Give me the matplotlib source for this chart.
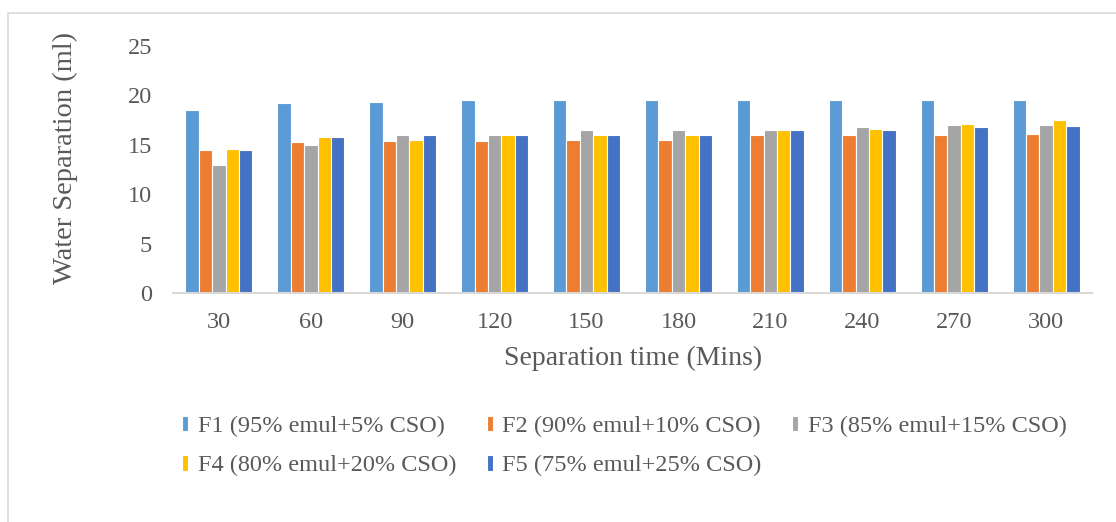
import numpy as np
import matplotlib
matplotlib.use("Agg")
import matplotlib.pyplot as plt
from matplotlib.patches import Rectangle

times = ["30", "60", "90", "120", "150", "180", "210", "240", "270", "300"]
series_names = [
    "F1 (95% emul+5% CSO)",
    "F2 (90% emul+10% CSO)",
    "F3 (85% emul+15% CSO)",
    "F4 (80% emul+20% CSO)",
    "F5 (75% emul+25% CSO)",
]
f1 = [18.5, 19.2, 19.3, 19.5, 19.5, 19.5, 19.5, 19.5, 19.5, 19.5]
f2 = [14.5, 15.3, 15.4, 15.4, 15.5, 15.5, 16.0, 16.0, 16.0, 16.1]
f3 = [13.0, 15.0, 16.0, 16.0, 16.5, 16.5, 16.5, 16.8, 17.0, 17.0]
f4 = [14.6, 15.8, 15.5, 16.0, 16.0, 16.0, 16.5, 16.6, 17.1, 17.5]
f5 = [14.5, 15.8, 16.0, 16.0, 16.0, 16.0, 16.5, 16.5, 16.8, 16.9]
colors = ["#5B9BD5", "#ED7D31", "#A5A5A5", "#FFC000", "#4472C4"]

plt.rcParams["font.family"] = ["Liberation Serif", "DejaVu Serif"]

fig = plt.figure(figsize=(11.16, 5.22), dpi=100)
ax = fig.add_axes([0.155, 0.4387, 0.8235, 0.4732])

# light chart-area border like the spreadsheet export
fig.patches.append(Rectangle((8 / 1116, -0.1), 1.2, 1 - 13 / 522 + 0.1,
                             transform=fig.transFigure, fill=False,
                             edgecolor="#D9D9D9", linewidth=1.2))

x = np.arange(len(times))
width = 0.146
handles = []
for i, (vals, name) in enumerate(zip([f1, f2, f3, f4, f5], series_names)):
    bars = ax.bar(x + (i - 2) * width, vals, width, color=colors[i],
                  edgecolor="white", linewidth=0.8, label=name)
    handles.append(bars)

ax.set_xlim(-0.5, len(times) - 0.5)
ax.set_ylim(0, 25)
ax.set_yticks([0, 5, 10, 15, 20, 25])
ax.set_xticks(x)
ax.set_xticklabels(times)
ax.tick_params(axis="both", length=0, labelsize=17.5, colors="#595959")
ax.tick_params(axis="x", pad=14)
ax.tick_params(axis="y", pad=15)
for s in ["top", "right", "left"]:
    ax.spines[s].set_visible(False)
ax.spines["bottom"].set_color("#D9D9D9")
ax.spines["bottom"].set_linewidth(1.5)

fig.text(65 / 1116, 1 - 158 / 522, "Water Separation (ml)", rotation=90,
         ha="center", va="center", fontsize=20.5, color="#595959")
fig.text(633 / 1116, 1 - 358 / 522, "Separation time (Mins)",
         ha="center", va="center", fontsize=20, color="#595959")

order = [0, 3, 1, 4, 2]
leg = fig.legend([handles[k] for k in order], [series_names[k] for k in order],
                 ncol=3, frameon=False, loc="center left",
                 bbox_to_anchor=(160 / 1116, 1 - 446 / 522),
                 fontsize=17.5, handlelength=0.25, handleheight=0.6,
                 handletextpad=0.4, columnspacing=1.25, labelspacing=0.75)
for t in leg.get_texts():
    t.set_color("#595959")

fig.savefig("out.png", dpi=100)
